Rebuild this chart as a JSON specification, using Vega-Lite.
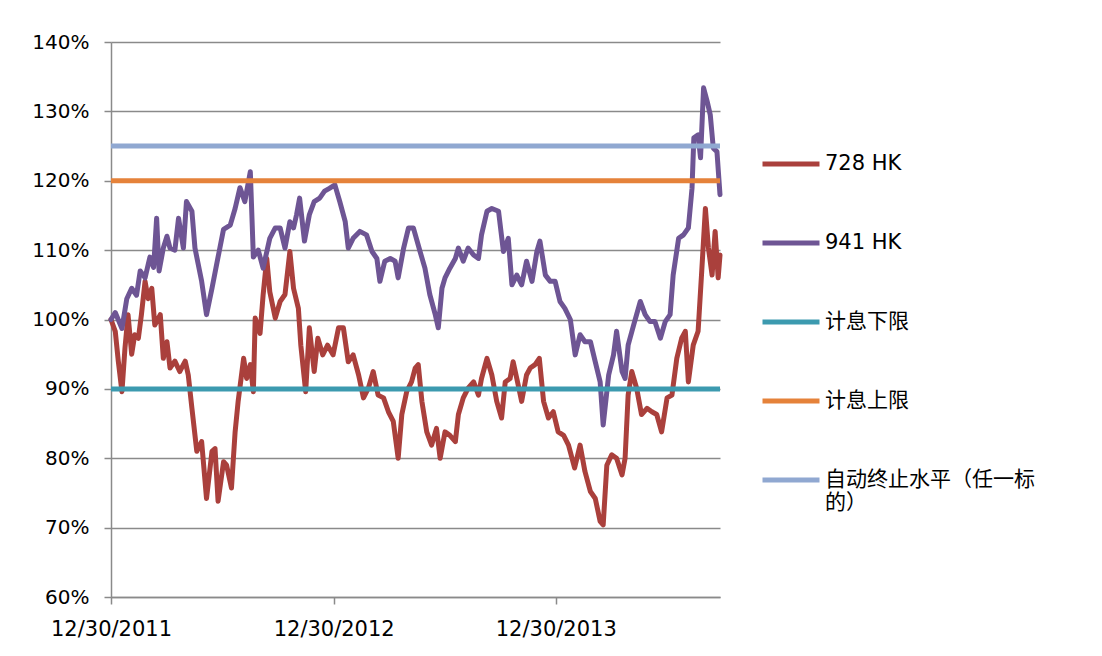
{
  "$schema": "https://vega.github.io/schema/vega-lite/v6.json",
  "width": 609,
  "height": 555,
  "autosize": "none",
  "padding": {"left": 111, "top": 42, "right": 382, "bottom": 59},
  "background": "white",
  "config": {"view": {"stroke": null}},
  "datasets": {
    "series": [
      {"d":"2011-12-30","s":"728 HK","v":100},{"d":"2012-01-06","s":"728 HK","v":98.3},{"d":"2012-01-11","s":"728 HK","v":94},{"d":"2012-01-17","s":"728 HK","v":89.6},{"d":"2012-01-22","s":"728 HK","v":95.9},{"d":"2012-01-27","s":"728 HK","v":100.7},{"d":"2012-02-02","s":"728 HK","v":95},{"d":"2012-02-07","s":"728 HK","v":97.8},{"d":"2012-02-13","s":"728 HK","v":97.3},{"d":"2012-02-18","s":"728 HK","v":100.7},{"d":"2012-02-24","s":"728 HK","v":105.5},{"d":"2012-02-29","s":"728 HK","v":103},{"d":"2012-03-06","s":"728 HK","v":104.5},{"d":"2012-03-11","s":"728 HK","v":99.2},{"d":"2012-03-20","s":"728 HK","v":100.7},{"d":"2012-03-25","s":"728 HK","v":94.4},{"d":"2012-03-31","s":"728 HK","v":96.8},{"d":"2012-04-05","s":"728 HK","v":93},{"d":"2012-04-13","s":"728 HK","v":94},{"d":"2012-04-21","s":"728 HK","v":92.5},{"d":"2012-04-30","s":"728 HK","v":94},{"d":"2012-05-05","s":"728 HK","v":92},{"d":"2012-05-11","s":"728 HK","v":87.2},{"d":"2012-05-19","s":"728 HK","v":81},{"d":"2012-05-27","s":"728 HK","v":82.4},{"d":"2012-06-04","s":"728 HK","v":74.2},{"d":"2012-06-13","s":"728 HK","v":81},{"d":"2012-06-18","s":"728 HK","v":81.4},{"d":"2012-06-23","s":"728 HK","v":73.8},{"d":"2012-07-02","s":"728 HK","v":79.5},{"d":"2012-07-07","s":"728 HK","v":79},{"d":"2012-07-15","s":"728 HK","v":75.7},{"d":"2012-07-21","s":"728 HK","v":83.8},{"d":"2012-07-26","s":"728 HK","v":88.2},{"d":"2012-08-04","s":"728 HK","v":94.4},{"d":"2012-08-09","s":"728 HK","v":91.5},{"d":"2012-08-15","s":"728 HK","v":93.5},{"d":"2012-08-20","s":"728 HK","v":89.6},{"d":"2012-08-23","s":"728 HK","v":100.2},{"d":"2012-08-31","s":"728 HK","v":98},{"d":"2012-09-05","s":"728 HK","v":103.5},{"d":"2012-09-11","s":"728 HK","v":108.8},{"d":"2012-09-16","s":"728 HK","v":104},{"d":"2012-09-25","s":"728 HK","v":100.2},{"d":"2012-10-03","s":"728 HK","v":102.6},{"d":"2012-10-11","s":"728 HK","v":103.6},{"d":"2012-10-19","s":"728 HK","v":109.8},{"d":"2012-10-25","s":"728 HK","v":104.5},{"d":"2012-11-02","s":"728 HK","v":101.6},{"d":"2012-11-06","s":"728 HK","v":96.3},{"d":"2012-11-14","s":"728 HK","v":89.6},{"d":"2012-11-20","s":"728 HK","v":98.8},{"d":"2012-11-28","s":"728 HK","v":92.5},{"d":"2012-12-04","s":"728 HK","v":97.3},{"d":"2012-12-12","s":"728 HK","v":94.9},{"d":"2012-12-20","s":"728 HK","v":96.3},{"d":"2012-12-29","s":"728 HK","v":94.9},{"d":"2013-01-07","s":"728 HK","v":98.8},{"d":"2013-01-15","s":"728 HK","v":98.8},{"d":"2013-01-23","s":"728 HK","v":93.9},{"d":"2013-01-31","s":"728 HK","v":94.9},{"d":"2013-02-09","s":"728 HK","v":92},{"d":"2013-02-17","s":"728 HK","v":88.7},{"d":"2013-02-25","s":"728 HK","v":90.1},{"d":"2013-03-05","s":"728 HK","v":92.5},{"d":"2013-03-13","s":"728 HK","v":89.1},{"d":"2013-03-22","s":"728 HK","v":88.7},{"d":"2013-03-30","s":"728 HK","v":86.7},{"d":"2013-04-07","s":"728 HK","v":85.3},{"d":"2013-04-15","s":"728 HK","v":80},{"d":"2013-04-21","s":"728 HK","v":86.3},{"d":"2013-04-29","s":"728 HK","v":89.6},{"d":"2013-05-07","s":"728 HK","v":91},{"d":"2013-05-13","s":"728 HK","v":93},{"d":"2013-05-18","s":"728 HK","v":93.5},{"d":"2013-05-24","s":"728 HK","v":88.2},{"d":"2013-06-01","s":"728 HK","v":83.8},{"d":"2013-06-09","s":"728 HK","v":81.9},{"d":"2013-06-17","s":"728 HK","v":84.3},{"d":"2013-06-23","s":"728 HK","v":80},{"d":"2013-07-01","s":"728 HK","v":83.8},{"d":"2013-07-09","s":"728 HK","v":83.3},{"d":"2013-07-18","s":"728 HK","v":82.4},{"d":"2013-07-23","s":"728 HK","v":86.3},{"d":"2013-07-31","s":"728 HK","v":88.7},{"d":"2013-08-08","s":"728 HK","v":90.1},{"d":"2013-08-17","s":"728 HK","v":91},{"d":"2013-08-25","s":"728 HK","v":89.1},{"d":"2013-08-30","s":"728 HK","v":91.5},{"d":"2013-09-08","s":"728 HK","v":94.4},{"d":"2013-09-16","s":"728 HK","v":92},{"d":"2013-09-24","s":"728 HK","v":88.2},{"d":"2013-10-02","s":"728 HK","v":85.8},{"d":"2013-10-08","s":"728 HK","v":91},{"d":"2013-10-16","s":"728 HK","v":91.5},{"d":"2013-10-21","s":"728 HK","v":93.9},{"d":"2013-10-27","s":"728 HK","v":91.5},{"d":"2013-11-04","s":"728 HK","v":88.2},{"d":"2013-11-12","s":"728 HK","v":92},{"d":"2013-11-18","s":"728 HK","v":93},{"d":"2013-11-26","s":"728 HK","v":93.5},{"d":"2013-12-03","s":"728 HK","v":94.4},{"d":"2013-12-10","s":"728 HK","v":88.2},{"d":"2013-12-18","s":"728 HK","v":85.8},{"d":"2013-12-26","s":"728 HK","v":86.7},{"d":"2014-01-03","s":"728 HK","v":83.8},{"d":"2014-01-12","s":"728 HK","v":83.3},{"d":"2014-01-20","s":"728 HK","v":81.9},{"d":"2014-01-30","s":"728 HK","v":78.6},{"d":"2014-02-08","s":"728 HK","v":81.9},{"d":"2014-02-16","s":"728 HK","v":78.1},{"d":"2014-02-25","s":"728 HK","v":75.2},{"d":"2014-03-05","s":"728 HK","v":74.2},{"d":"2014-03-13","s":"728 HK","v":70.9},{"d":"2014-03-18","s":"728 HK","v":70.4},{"d":"2014-03-24","s":"728 HK","v":79},{"d":"2014-04-01","s":"728 HK","v":80.5},{"d":"2014-04-09","s":"728 HK","v":80},{"d":"2014-04-18","s":"728 HK","v":77.6},{"d":"2014-04-23","s":"728 HK","v":80},{"d":"2014-04-28","s":"728 HK","v":89.1},{"d":"2014-05-04","s":"728 HK","v":92.5},{"d":"2014-05-12","s":"728 HK","v":90.1},{"d":"2014-05-20","s":"728 HK","v":86.3},{"d":"2014-05-29","s":"728 HK","v":87.2},{"d":"2014-06-06","s":"728 HK","v":86.7},{"d":"2014-06-14","s":"728 HK","v":86.3},{"d":"2014-06-22","s":"728 HK","v":83.8},{"d":"2014-07-01","s":"728 HK","v":88.7},{"d":"2014-07-09","s":"728 HK","v":89.1},{"d":"2014-07-17","s":"728 HK","v":94.4},{"d":"2014-07-25","s":"728 HK","v":97.3},{"d":"2014-07-31","s":"728 HK","v":98.3},{"d":"2014-08-05","s":"728 HK","v":91},{"d":"2014-08-13","s":"728 HK","v":96.3},{"d":"2014-08-21","s":"728 HK","v":98.3},{"d":"2014-08-27","s":"728 HK","v":107},{"d":"2014-09-02","s":"728 HK","v":116},{"d":"2014-09-07","s":"728 HK","v":110.3},{"d":"2014-09-13","s":"728 HK","v":106.4},{"d":"2014-09-18","s":"728 HK","v":112.7},{"d":"2014-09-23","s":"728 HK","v":106},{"d":"2014-09-26","s":"728 HK","v":109.3},
      {"d":"2011-12-30","s":"941 HK","v":100},{"d":"2012-01-06","s":"941 HK","v":101},{"d":"2012-01-17","s":"941 HK","v":98.7},{"d":"2012-01-25","s":"941 HK","v":103},{"d":"2012-02-02","s":"941 HK","v":104.5},{"d":"2012-02-10","s":"941 HK","v":103.5},{"d":"2012-02-16","s":"941 HK","v":107},{"d":"2012-02-24","s":"941 HK","v":106},{"d":"2012-03-03","s":"941 HK","v":109},{"d":"2012-03-09","s":"941 HK","v":107.5},{"d":"2012-03-14","s":"941 HK","v":114.6},{"d":"2012-03-18","s":"941 HK","v":107},{"d":"2012-03-25","s":"941 HK","v":110.3},{"d":"2012-03-31","s":"941 HK","v":112},{"d":"2012-04-05","s":"941 HK","v":110.3},{"d":"2012-04-13","s":"941 HK","v":110},{"d":"2012-04-19","s":"941 HK","v":114.6},{"d":"2012-04-27","s":"941 HK","v":110.3},{"d":"2012-05-02","s":"941 HK","v":117},{"d":"2012-05-11","s":"941 HK","v":115.6},{"d":"2012-05-16","s":"941 HK","v":110.3},{"d":"2012-05-27","s":"941 HK","v":105.5},{"d":"2012-06-04","s":"941 HK","v":100.7},{"d":"2012-06-13","s":"941 HK","v":104.5},{"d":"2012-06-23","s":"941 HK","v":109},{"d":"2012-07-02","s":"941 HK","v":113},{"d":"2012-07-13","s":"941 HK","v":113.6},{"d":"2012-07-21","s":"941 HK","v":116},{"d":"2012-07-29","s":"941 HK","v":119},{"d":"2012-08-06","s":"941 HK","v":117},{"d":"2012-08-15","s":"941 HK","v":121.3},{"d":"2012-08-20","s":"941 HK","v":109},{"d":"2012-08-28","s":"941 HK","v":110},{"d":"2012-09-05","s":"941 HK","v":107.4},{"d":"2012-09-16","s":"941 HK","v":111.7},{"d":"2012-09-25","s":"941 HK","v":113.2},{"d":"2012-10-03","s":"941 HK","v":113.2},{"d":"2012-10-11","s":"941 HK","v":110.3},{"d":"2012-10-19","s":"941 HK","v":114.1},{"d":"2012-10-25","s":"941 HK","v":113.2},{"d":"2012-10-30","s":"941 HK","v":115.1},{"d":"2012-11-04","s":"941 HK","v":117.5},{"d":"2012-11-12","s":"941 HK","v":111.3},{"d":"2012-11-20","s":"941 HK","v":115.1},{"d":"2012-11-28","s":"941 HK","v":117},{"d":"2012-12-07","s":"941 HK","v":117.5},{"d":"2012-12-15","s":"941 HK","v":118.5},{"d":"2012-12-23","s":"941 HK","v":118.9},{"d":"2013-01-01","s":"941 HK","v":119.4},{"d":"2013-01-09","s":"941 HK","v":117},{"d":"2013-01-18","s":"941 HK","v":114.1},{"d":"2013-01-23","s":"941 HK","v":110.3},{"d":"2013-01-31","s":"941 HK","v":111.7},{"d":"2013-02-11","s":"941 HK","v":112.7},{"d":"2013-02-22","s":"941 HK","v":112.2},{"d":"2013-03-03","s":"941 HK","v":109.8},{"d":"2013-03-11","s":"941 HK","v":108.8},{"d":"2013-03-16","s":"941 HK","v":105.5},{"d":"2013-03-24","s":"941 HK","v":108.4},{"d":"2013-04-02","s":"941 HK","v":108.8},{"d":"2013-04-10","s":"941 HK","v":108.4},{"d":"2013-04-15","s":"941 HK","v":106},{"d":"2013-04-24","s":"941 HK","v":110.3},{"d":"2013-05-02","s":"941 HK","v":113.2},{"d":"2013-05-10","s":"941 HK","v":113.2},{"d":"2013-05-21","s":"941 HK","v":109.8},{"d":"2013-05-29","s":"941 HK","v":107.4},{"d":"2013-06-06","s":"941 HK","v":103.6},{"d":"2013-06-15","s":"941 HK","v":100.7},{"d":"2013-06-20","s":"941 HK","v":98.8},{"d":"2013-06-26","s":"941 HK","v":104.5},{"d":"2013-07-01","s":"941 HK","v":106},{"d":"2013-07-09","s":"941 HK","v":107.4},{"d":"2013-07-18","s":"941 HK","v":108.8},{"d":"2013-07-23","s":"941 HK","v":110.3},{"d":"2013-07-31","s":"941 HK","v":108.4},{"d":"2013-08-08","s":"941 HK","v":110.3},{"d":"2013-08-17","s":"941 HK","v":109.3},{"d":"2013-08-25","s":"941 HK","v":108.8},{"d":"2013-08-30","s":"941 HK","v":112.2},{"d":"2013-09-08","s":"941 HK","v":115.6},{"d":"2013-09-16","s":"941 HK","v":116},{"d":"2013-09-27","s":"941 HK","v":115.6},{"d":"2013-10-05","s":"941 HK","v":109.8},{"d":"2013-10-13","s":"941 HK","v":111.7},{"d":"2013-10-19","s":"941 HK","v":105},{"d":"2013-10-27","s":"941 HK","v":106.4},{"d":"2013-11-04","s":"941 HK","v":105},{"d":"2013-11-12","s":"941 HK","v":108.4},{"d":"2013-11-21","s":"941 HK","v":105.5},{"d":"2013-11-29","s":"941 HK","v":109.8},{"d":"2013-12-04","s":"941 HK","v":111.3},{"d":"2013-12-13","s":"941 HK","v":106.4},{"d":"2013-12-21","s":"941 HK","v":105.5},{"d":"2013-12-29","s":"941 HK","v":105.5},{"d":"2014-01-06","s":"941 HK","v":102.6},{"d":"2014-01-14","s":"941 HK","v":101.6},{"d":"2014-01-23","s":"941 HK","v":100},{"d":"2014-01-31","s":"941 HK","v":94.9},{"d":"2014-02-08","s":"941 HK","v":97.8},{"d":"2014-02-16","s":"941 HK","v":96.8},{"d":"2014-02-25","s":"941 HK","v":96.8},{"d":"2014-03-05","s":"941 HK","v":93.9},{"d":"2014-03-13","s":"941 HK","v":91},{"d":"2014-03-18","s":"941 HK","v":84.8},{"d":"2014-03-27","s":"941 HK","v":92},{"d":"2014-04-04","s":"941 HK","v":94.9},{"d":"2014-04-09","s":"941 HK","v":98.3},{"d":"2014-04-18","s":"941 HK","v":92.5},{"d":"2014-04-23","s":"941 HK","v":91.5},{"d":"2014-04-28","s":"941 HK","v":96.3},{"d":"2014-05-07","s":"941 HK","v":99.2},{"d":"2014-05-18","s":"941 HK","v":102.6},{"d":"2014-05-26","s":"941 HK","v":100.7},{"d":"2014-06-03","s":"941 HK","v":99.7},{"d":"2014-06-11","s":"941 HK","v":99.7},{"d":"2014-06-20","s":"941 HK","v":97.3},{"d":"2014-06-28","s":"941 HK","v":99.7},{"d":"2014-07-06","s":"941 HK","v":100.7},{"d":"2014-07-11","s":"941 HK","v":106.4},{"d":"2014-07-20","s":"941 HK","v":111.7},{"d":"2014-07-28","s":"941 HK","v":112.2},{"d":"2014-08-05","s":"941 HK","v":113.2},{"d":"2014-08-11","s":"941 HK","v":118.9},{"d":"2014-08-14","s":"941 HK","v":126.2},{"d":"2014-08-21","s":"941 HK","v":126.6},{"d":"2014-08-25","s":"941 HK","v":123.3},{"d":"2014-08-30","s":"941 HK","v":133.4},{"d":"2014-09-05","s":"941 HK","v":131.4},{"d":"2014-09-10","s":"941 HK","v":129.5},{"d":"2014-09-15","s":"941 HK","v":124.7},{"d":"2014-09-21","s":"941 HK","v":124.2},{"d":"2014-09-26","s":"941 HK","v":118}
    ],
    "levels": [
      {"d":"2011-12-30","s":"计息下限","v":90},{"d":"2014-09-26","s":"计息下限","v":90},
      {"d":"2011-12-30","s":"计息上限","v":120},{"d":"2014-09-26","s":"计息上限","v":120},
      {"d":"2011-12-30","s":"自动终止水平（任一标的）","v":125},{"d":"2014-09-26","s":"自动终止水平（任一标的）","v":125}
    ]
  },
  "encoding": {
    "x": {
      "field": "d", "type": "temporal",
      "scale": {"type": "utc", "domain": [{"year": 2011, "month": 12, "date": 30, "utc": true}, {"year": 2014, "month": 9, "date": 26, "utc": true}], "nice": false},
      "axis": {
        "title": null,
        "values": [{"year": 2011, "month": 12, "date": 30, "utc": true}, {"year": 2012, "month": 12, "date": 30, "utc": true}, {"year": 2013, "month": 12, "date": 30, "utc": true}],
        "format": "%m/%d/%Y",
        "grid": false,
        "labelFlush": false,
        "labelOverlap": false,
        "labelBound": false,
        "domainColor": "#8a8a8a", "domainWidth": 1.5,
        "tickColor": "#8a8a8a", "tickWidth": 1.5, "tickSize": 7,
        "labelPadding": 14,
        "labelFont": "DejaVu Sans", "labelFontSize": 21, "labelColor": "#000000"
      }
    },
    "y": {
      "field": "v", "type": "quantitative",
      "scale": {"domain": [60, 140], "nice": false, "zero": false},
      "axis": {
        "title": null,
        "values": [60, 70, 80, 90, 100, 110, 120, 130, 140],
        "labelExpr": "datum.value + '%'",
        "grid": true, "gridColor": "#8a8a8a", "gridWidth": 1.5,
        "domainColor": "#8a8a8a", "domainWidth": 1.5,
        "tickColor": "#8a8a8a", "tickWidth": 1.5, "tickSize": 7,
        "labelPadding": 15,
        "labelFont": "DejaVu Sans", "labelFontSize": 20, "labelColor": "#000000"
      }
    },
    "color": {
      "field": "s", "type": "nominal",
      "scale": {
        "domain": ["728 HK", "941 HK", "计息下限", "计息上限", "自动终止水平（任一标的）"],
        "range": ["#AA403C", "#6E5594", "#3C9AAF", "#E5823A", "#90A8D1"]
      },
      "legend": {
        "title": null,
        "orient": "none",
        "legendX": 649,
        "legendY": 91,
        "padding": 0,
        "symbolType": "stroke",
        "symbolSize": 3249,
        "symbolStrokeWidth": 5,
        "labelOffset": 3,
        "rowPadding": 38,
        "labelFont": "DejaVu Sans, Noto Sans CJK SC",
        "labelFontSize": 21,
        "labelColor": "#000000",
        "labelLimit": 400,
        "labelExpr": "datum.label == '自动终止水平（任一标的）' ? ['自动终止水平（任一标', '的）'] : datum.label"
      }
    }
  },
  "layer": [
    {"data": {"name": "series"}, "mark": {"type": "line", "strokeWidth": 5, "strokeJoin": "round", "strokeCap": "round"}},
    {"data": {"name": "levels"}, "mark": {"type": "line", "strokeWidth": 5}}
  ]
}
